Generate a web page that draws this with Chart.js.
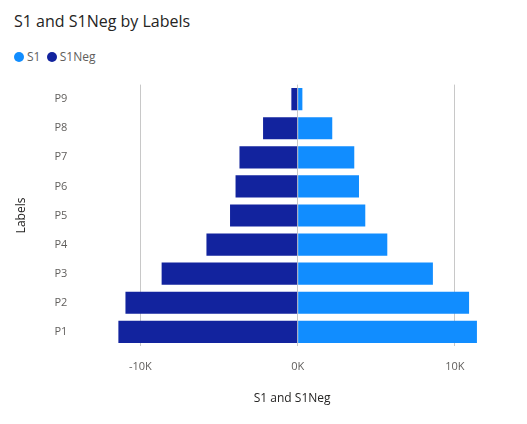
<!DOCTYPE html>
<html><head><meta charset="utf-8">
<script src="https://cdn.jsdelivr.net/npm/chart.js@4.4.0/dist/chart.umd.min.js"></script>
<style>body{margin:0;background:#fff;font-family:"Open Sans",sans-serif}
#t{position:absolute;left:14px;top:10px;font-size:16px;color:#252423}
#lg{position:absolute;left:14px;top:48px;font-size:12px;color:#605e5c;display:flex;align-items:center}
.d{width:10px;height:10px;border-radius:50%;display:inline-block;margin-right:3px}
#w{position:absolute;left:0;top:56px;width:527px;height:368px}</style></head>
<body><div id="t">S1 and S1Neg by Labels</div>
<div id="lg"><span class="d" style="background:#118DFF"></span>S1&nbsp;&nbsp;<span class="d" style="background:#12239E"></span>S1Neg</div>
<div id="w"><canvas id="c"></canvas></div>
<script>
const labels=["P9","P8","P7","P6","P5","P4","P3","P2","P1"];
const s1=[300,2200,3600,3900,4300,5700,8600,10900,11400];
const s1neg=[-400,-2200,-3700,-3950,-4300,-5800,-8650,-10950,-11400];
new Chart(document.getElementById('c'),{type:'bar',
data:{labels,datasets:[
{label:'S1Neg',data:s1neg,backgroundColor:'#12239E',barPercentage:0.76,categoryPercentage:1},
{label:'S1',data:s1,backgroundColor:'#118DFF',barPercentage:0.76,categoryPercentage:1}]},
options:{indexAxis:'y',responsive:true,maintainAspectRatio:false,animation:false,
layout:{padding:{left:10,right:40,top:28,bottom:14}},
plugins:{legend:{display:false},tooltip:{enabled:false}},
scales:{x:{stacked:true,min:-12740,max:12040,afterBuildTicks:a=>{a.ticks=[-10000,0,10000].map(v=>({value:v}))},
ticks:{color:'#605e5c',font:{size:11,family:'Open Sans'},callback:v=>(v/1000)+'K',padding:14},
grid:{color:'#c8c8c8',lineWidth:1,tickLength:0,drawTicks:false},border:{display:false},
title:{display:true,text:'S1 and S1Neg',color:'#252423',font:{size:12,family:'Open Sans'}}},
y:{stacked:true,ticks:{color:'#605e5c',font:{size:11,family:'Open Sans'},padding:22},grid:{display:false},border:{display:false},
title:{display:true,text:'Labels',color:'#252423',font:{size:12,family:'Open Sans'}}}}}});
</script></body></html>
